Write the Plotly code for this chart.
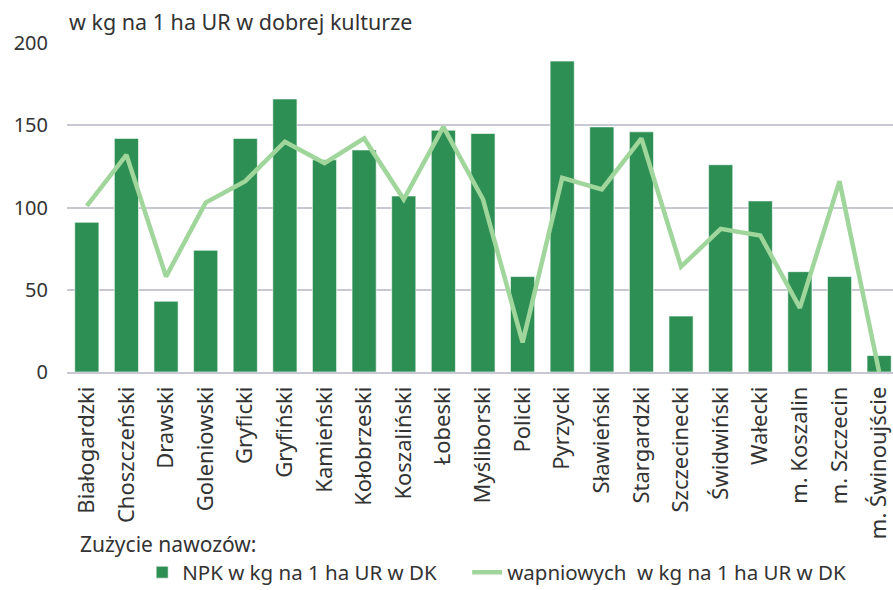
import plotly.graph_objects as go

categories = ["Białogardzki", "Choszczeński", "Drawski", "Goleniowski", "Gryficki",
              "Gryfiński", "Kamieński", "Kołobrzeski", "Koszaliński", "Łobeski",
              "Myśliborski", "Policki", "Pyrzycki", "Sławieński", "Stargardzki",
              "Szczecinecki", "Świdwiński", "Wałecki", "m. Koszalin", "m. Szczecin",
              "m. Świnoujście"]
npk = [91, 142, 43, 74, 142, 166, 129, 135, 107, 147, 145, 58, 189, 149, 146,
       34, 126, 104, 61, 58, 10]
wapniowe = [101, 132, 58, 103, 116, 140, 127, 142, 105, 149, 105, 18, 118, 111, 142,
            64, 87, 83, 39, 116, 0]
y_ticks = [0, 50, 100, 150, 200]

BAR = "rgb(46,143,85)"
LINE = "rgb(160,214,155)"
TXT = "#333333"
FONT = "Noto Sans"

fig = go.Figure()
fig.add_trace(go.Bar(
    x=categories, y=npk, name="NPK w kg na 1 ha UR w DK", legendwidth=280,
    marker=dict(color=BAR, line=dict(color="rgba(255,255,255,0.6)", width=1)),
))
fig.add_trace(go.Scatter(
    x=categories, y=wapniowe, name="wapniowych  w kg na 1 ha UR w DK", legendwidth=370,
    mode="lines", line=dict(color=LINE, width=4.5),
))

fig.update_layout(
    width=893, height=590,
    margin=dict(l=67, r=0, t=43, b=218, autoexpand=False),
    paper_bgcolor="white", plot_bgcolor="white",
    bargap=0.39,
    font=dict(family=FONT, color=TXT, size=17),
    showlegend=True,
    legend=dict(orientation="h", x=0.091, y=-0.609, xanchor="left", yanchor="middle",
                font=dict(size=20.5, family=FONT, color=TXT), itemwidth=30,
                tracegroupgap=0, traceorder="normal"),
    annotations=[
        dict(text="w kg na 1 ha UR w dobrej kulturze", xref="paper", yref="paper",
             x=0, y=1.0, yshift=22, xanchor="left", yanchor="middle", showarrow=False,
             font=dict(size=21.5, family=FONT, color=TXT)),
        dict(text="Zużycie nawozów:", xref="paper", yref="paper",
             x=0.013, y=-0.522, xanchor="left", yanchor="middle", showarrow=False,
             font=dict(size=21, family=FONT, color=TXT)),
    ],
)
fig.update_xaxes(
    range=[-0.5, 20.35], tickangle=-90, showgrid=False, automargin=False,
    showline=True, linecolor="rgb(200,200,210)", linewidth=1.5,
    ticks="", tickfont=dict(size=22, family=FONT, color=TXT), ticklabelstandoff=4,
)
fig.update_yaxes(
    range=[0, 200], tickvals=y_ticks, showgrid=True, gridcolor="rgb(200,200,210)",
    gridwidth=1.5, zeroline=False, ticks="", ticklabelstandoff=18, automargin=False,
    tickfont=dict(size=20, family=FONT, color=TXT),
)

fig.write_html("out.html")
